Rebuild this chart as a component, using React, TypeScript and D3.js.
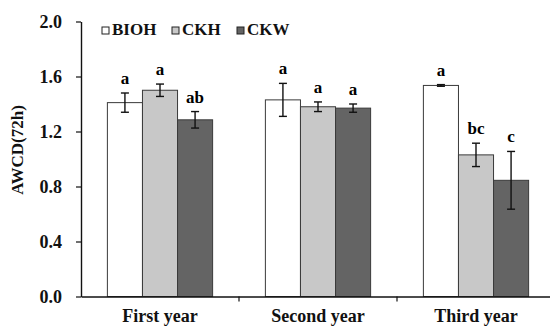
import React, { useRef, useEffect } from "react";
import * as d3 from "d3";

const years = ["First year", "Second year", "Third year"];
const keys = ["BIOH", "CKH", "CKW"];
const colors = ["#ffffff", "#c8c8c8", "#646464"];

const biohMean = [1.41, 1.43, 1.535];
const biohErr = [0.07, 0.12, 0.006];
const ckhMean = [1.5, 1.38, 1.03];
const ckhErr = [0.045, 0.035, 0.085];
const ckwMean = [1.285, 1.37, 0.845];
const ckwErr = [0.06, 0.03, 0.21];

const biohLetters = ["a", "a", "a"];
const ckhLetters = ["a", "a", "bc"];
const ckwLetters = ["ab", "a", "c"];

const yTicks = [0, 0.4, 0.8, 1.2, 1.6, 2.0];

const FONT = "Liberation Serif, DejaVu Serif, Times New Roman, serif";

const App = () => {
  const ref = useRef<SVGSVGElement>(null);

  useEffect(() => {
    const svg = d3.select(ref.current);
    svg.selectAll("*").remove();

    const means = [biohMean, ckhMean, ckwMean];
    const errs = [biohErr, ckhErr, ckwErr];
    const letters = [biohLetters, ckhLetters, ckwLetters];

    const data = years.flatMap((yr, i) =>
      keys.map((k, j) => ({
        year: yr,
        key: k,
        idx: j,
        mean: means[j][i],
        err: errs[j][i],
        letter: letters[j][i],
      }))
    );

    const x = d3.scaleBand().domain(years).range([81, 555]).paddingInner(0).paddingOuter(0);
    const x1 = d3
      .scaleBand()
      .domain(keys)
      .range([x.bandwidth() * 0.167, x.bandwidth() * 0.833])
      .padding(0);
    const y = d3.scaleLinear().domain([0, 2]).range([296.5, 21.5]);

    // bars
    svg
      .append("g")
      .selectAll("rect")
      .data(data)
      .enter()
      .append("rect")
      .attr("x", (d) => x(d.year)! + x1(d.key)!)
      .attr("y", (d) => y(d.mean))
      .attr("width", x1.bandwidth())
      .attr("height", (d) => y(0) - y(d.mean))
      .attr("fill", (d) => colors[d.idx])
      .attr("stroke", "#3a3a3a")
      .attr("stroke-width", 1);

    // error bars
    const eb = svg.append("g").attr("stroke", "#111").attr("stroke-width", 1.4);
    data.forEach((d) => {
      const cx = x(d.year)! + x1(d.key)! + x1.bandwidth() / 2;
      eb.append("line").attr("x1", cx).attr("x2", cx).attr("y1", y(d.mean + d.err)).attr("y2", y(d.mean - d.err));
      [d.mean + d.err, d.mean - d.err].forEach((v) => {
        eb.append("line").attr("x1", cx - 4).attr("x2", cx + 4).attr("y1", y(v)).attr("y2", y(v));
      });
    });

    // significance letters
    svg
      .append("g")
      .selectAll("text")
      .data(data)
      .enter()
      .append("text")
      .attr("x", (d) => x(d.year)! + x1(d.key)! + x1.bandwidth() / 2)
      .attr("y", (d) => y(d.mean + d.err) - 9)
      .attr("text-anchor", "middle")
      .style("font-family", FONT)
      .style("font-weight", "bold")
      .style("font-size", "17px")
      .text((d) => d.letter);

    // y axis
    const yAxis = svg
      .append("g")
      .attr("transform", "translate(81,0)")
      .call(d3.axisLeft(y).tickValues(yTicks).tickFormat(d3.format(".1f")).tickSize(5).tickSizeOuter(0));
    yAxis.attr("font-family", null).attr("font-size", null);
    yAxis.select(".domain").attr("stroke", "#111").attr("stroke-width", 1.4);
    yAxis.selectAll(".tick line").attr("stroke", "#111").attr("stroke-width", 1.2);
    yAxis
      .selectAll(".tick text")
      .attr("x", -19)
      .style("font-family", FONT)
      .style("font-weight", "bold")
      .style("font-size", "18px")
      .attr("fill", "#111");

    // x axis
    const xAxis = svg
      .append("g")
      .attr("transform", `translate(0,${y(0)})`)
      .call(d3.axisBottom(x).tickSize(0).tickSizeOuter(0));
    xAxis.attr("font-family", null).attr("font-size", null);
    xAxis.select(".domain").attr("stroke", "#111").attr("stroke-width", 1.4);
    xAxis
      .selectAll(".tick text")
      .attr("y", 13)
      .attr("dy", "0.71em")
      .style("font-family", FONT)
      .style("font-weight", "bold")
      .style("font-size", "18px")
      .attr("fill", "#111");
    // category separators
    svg
      .append("g")
      .selectAll("line")
      .data(years.slice(1))
      .enter()
      .append("line")
      .attr("x1", (d) => x(d)!)
      .attr("x2", (d) => x(d)!)
      .attr("y1", y(0))
      .attr("y2", y(0) + 5)
      .attr("stroke", "#111")
      .attr("stroke-width", 1.2);

    // y label
    svg
      .append("text")
      .attr("transform", "translate(23,150) rotate(-90)")
      .attr("text-anchor", "middle")
      .style("font-family", FONT)
      .style("font-weight", "bold")
      .style("font-size", "17px")
      .attr("fill", "#111")
      .text("AWCD(72h)");

    // legend
    const legendX = [102, 172, 237];
    const legend = svg
      .append("g")
      .selectAll("g")
      .data(keys)
      .enter()
      .append("g")
      .attr("transform", (_, i) => `translate(${legendX[i]},0)`);
    legend
      .append("rect")
      .attr("x", 0)
      .attr("y", 27)
      .attr("width", 7)
      .attr("height", 7)
      .attr("fill", (_, i) => colors[i])
      .attr("stroke", "#222")
      .attr("stroke-width", 1);
    legend
      .append("text")
      .attr("x", 10)
      .attr("y", 35)
      .style("font-family", FONT)
      .style("font-weight", "bold")
      .style("font-size", "17px")
      .attr("fill", "#111")
      .text((d) => d);
  }, []);

  return (
    <svg
      ref={ref}
      width={550}
      height={327}
      style={{ position: "absolute", left: 0, top: 0, background: "#fff" }}
    />
  );
};

export default App;
